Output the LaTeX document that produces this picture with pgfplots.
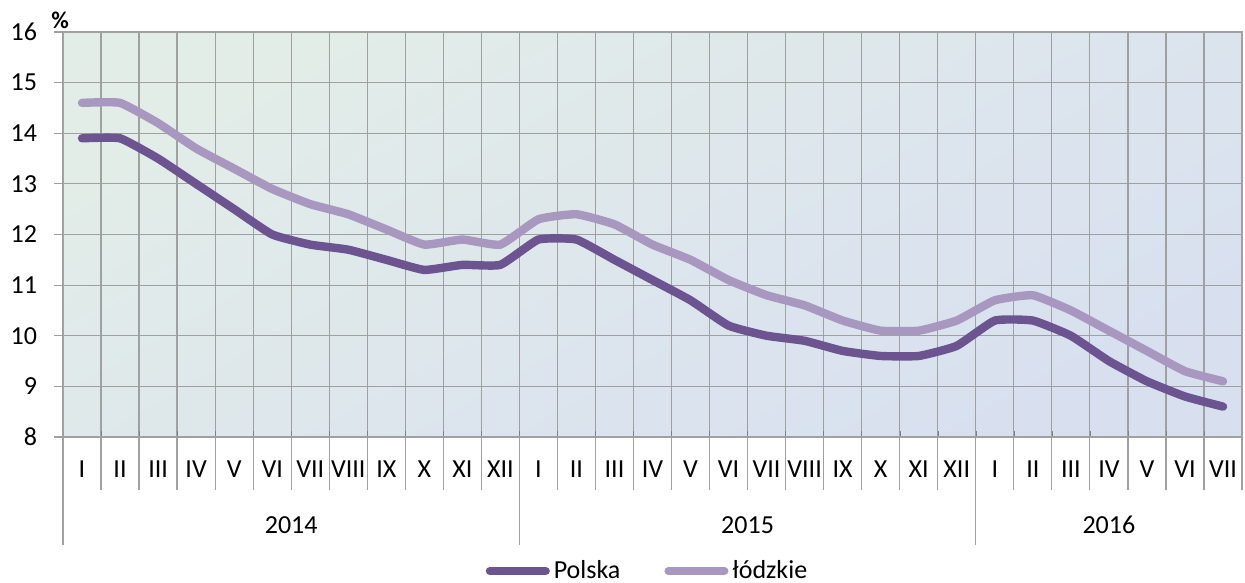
\documentclass[border=0pt]{standalone}
\usepackage{pgfplots}
\pgfplotsset{compat=1.18}
\usepackage{fontspec}
\setmainfont{Carlito}
\definecolor{polska}{HTML}{6B5490}
\definecolor{lodz}{HTML}{A898C0}
\definecolor{gridg}{HTML}{A0A0A0}
\definecolor{bgA}{HTML}{E2EDE8}
\definecolor{bgB}{HTML}{D8E0F0}
\begin{document}
\begin{tikzpicture}
\begin{axis}[
  scale only axis, width=589.5pt, height=202.5pt,
  xmin=-0.5, xmax=30.5, ymin=8, ymax=16,
  clip=false,
  font=\fontsize{13}{15}\selectfont,
  /pgf/number format/assume math mode=true,
  axis background/.style={shade, shading=axis, top color=bgA, bottom color=bgB, shading angle=30},
  axis line style={gridg, line width=0.6pt},
  tick pos=left,
  xtick={0,...,30},
  xticklabels={I,II,III,IV,V,VI,VII,VIII,IX,X,XI,XII,I,II,III,IV,V,VI,VII,VIII,IX,X,XI,XII,I,II,III,IV,V,VI,VII},
  major x tick style={draw=none},
  xticklabel style={anchor=center, yshift=-16pt},
  minor xtick={-0.5,0.5,1.5,2.5,3.5,4.5,5.5,6.5,7.5,8.5,9.5,10.5,11.5,12.5,13.5,14.5,15.5,16.5,17.5,18.5,19.5,20.5,21.5,22.5,23.5,24.5,25.5,26.5,27.5,28.5,29.5,30.5},
  xminorgrids,
  minor x grid style={gridg, line width=0.6pt},
  ytick={8,...,16},
  ymajorgrids,
  major y grid style={gridg, line width=0.6pt},
  ytick style={gridg, line width=0.6pt},
  ytick align=outside,
  major tick length=4.5pt,
  yticklabel style={anchor=east, xshift=-5pt},
  legend style={draw=none, fill=none, at={(0.5,0)}, anchor=center, yshift=-67pt, xshift=-2pt,
    legend columns=2, /tikz/every even column/.append style={column sep=20pt},
    font=\fontsize{13}{15}\selectfont, inner sep=0pt},
  legend image code/.code={\draw[#1, line width=4pt, line cap=round] (0pt,0pt) -- (28pt,0pt);},
]
\addplot[polska, line width=4.2pt, smooth, tension=0.25, line cap=round, line join=round] coordinates {
(0,13.9)(1,13.9)(2,13.5)(3,13.0)(4,12.5)(5,12.0)(6,11.8)(7,11.7)(8,11.5)(9,11.3)(10,11.4)(11,11.4)
(12,11.9)(13,11.9)(14,11.5)(15,11.1)(16,10.7)(17,10.2)(18,10.0)(19,9.9)(20,9.7)(21,9.6)(22,9.6)(23,9.8)
(24,10.3)(25,10.3)(26,10.0)(27,9.5)(28,9.1)(29,8.8)(30,8.6)};
\addlegendentry{Polska}
\addplot[lodz, line width=4.2pt, smooth, tension=0.25, line cap=round, line join=round] coordinates {
(0,14.6)(1,14.6)(2,14.2)(3,13.7)(4,13.3)(5,12.9)(6,12.6)(7,12.4)(8,12.1)(9,11.8)(10,11.9)(11,11.8)
(12,12.3)(13,12.4)(14,12.2)(15,11.8)(16,11.5)(17,11.1)(18,10.8)(19,10.6)(20,10.3)(21,10.1)(22,10.1)(23,10.3)
(24,10.7)(25,10.8)(26,10.5)(27,10.1)(28,9.7)(29,9.3)(30,9.1)};
\addlegendentry{łódzkie}
\pgfplotsinvokeforeach{-0.5,0.5,1.5,2.5,3.5,4.5,5.5,6.5,7.5,8.5,9.5,10.5,11.5,12.5,13.5,14.5,15.5,16.5,17.5,18.5,19.5,20.5,21.5,22.5,23.5,24.5,25.5,26.5,27.5,28.5,29.5,30.5}{
  \draw[gridg, line width=0.6pt] (axis cs:#1,8) -- ([yshift=-26.5pt]axis cs:#1,8);
}
\draw[gridg, line width=0.6pt] (axis cs:-0.5,8) -- ([yshift=-54pt]axis cs:-0.5,8);
\draw[gridg, line width=0.6pt] (axis cs:11.5,8) -- ([yshift=-54pt]axis cs:11.5,8);
\draw[gridg, line width=0.6pt] (axis cs:23.5,8) -- ([yshift=-54pt]axis cs:23.5,8);
\node[font=\fontsize{13}{15}\selectfont] at ([yshift=-44pt]axis cs:5.5,8) {2014};
\node[font=\fontsize{13}{15}\selectfont] at ([yshift=-44pt]axis cs:17.5,8) {2015};
\node[font=\fontsize{13}{15}\selectfont] at ([yshift=-44pt]axis cs:27,8) {2016};
\node[font=\fontsize{12}{14}\selectfont\bfseries] at ([xshift=-1.5pt,yshift=6pt]rel axis cs:0,1) {\%};
\coordinate (SW) at (rel axis cs:0,0);
\coordinate (NE) at (rel axis cs:1,1);
\end{axis}
\pgfresetboundingbox
\path ([xshift=-31.5pt,yshift=-73pt]SW) rectangle ([xshift=1.5pt,yshift=16pt]NE);
\end{tikzpicture}
\end{document}
